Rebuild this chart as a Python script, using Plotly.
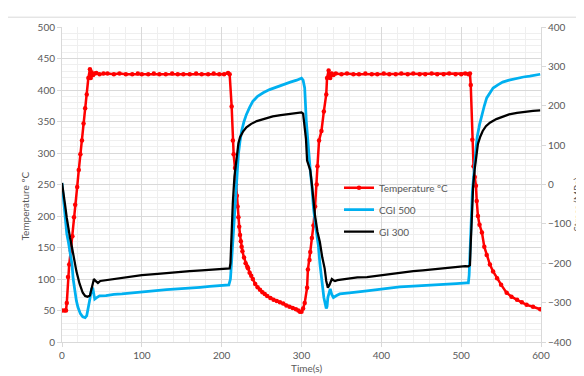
import plotly.graph_objects as go

# ---- Data ----
temp_time = [0, 3, 5, 6, 7.5, 9, 11, 13, 15, 16.5, 19, 21, 23, 25, 27, 29, 31, 33, 35, 36, 37, 39, 41, 43,
             47, 52, 57, 65, 72, 80, 88, 95, 100, 108, 115, 122, 130, 138, 145, 152, 160, 168, 175, 183,
             190, 197, 203, 208, 210,
             212.5, 214, 215, 216.7, 218, 219, 220, 221, 222, 223, 224, 225, 226, 228, 230, 232, 233, 235,
             237, 239, 242, 245, 248, 251, 254, 257, 261, 265, 269, 273, 277, 281, 285, 289, 293, 296, 298,
             300, 302, 304, 307, 308, 310, 311, 313, 315, 317, 319, 320, 322, 325, 328, 331, 332, 334, 336,
             338, 340, 343, 350, 357, 365, 372, 380, 388, 395, 403, 410, 418, 425, 433, 440, 448, 455, 463,
             470, 478, 485, 493, 500, 505, 509, 511,
             512, 514, 515.5, 517, 518.5, 519.5, 521, 523, 526, 529, 532, 536, 540, 545, 550, 557, 563, 570,
             576, 582, 590, 599]
temp_vals = [50, 50, 50, 62, 103, 123, 145, 168, 198, 218, 246, 273, 298, 320, 347, 371, 393, 419, 433, 419,
             428, 424, 426, 427,
             425, 426, 426, 425, 426, 425, 425, 426, 425, 425, 426, 425, 425, 426, 425, 425, 425, 426, 425,
             425, 426, 425, 425, 427, 425,
             374, 320, 298, 276, 250, 232, 215, 198, 183, 170, 160, 151, 144, 134, 125, 120, 117, 110,
             105, 100, 92, 87, 83, 79, 76, 73, 70, 67, 65, 63, 61, 58, 56, 54, 52, 50, 48,
             48, 53, 62, 86, 115, 130, 143, 165, 185, 215, 250, 279, 320, 335, 366, 393, 419, 431, 419,
             426, 424, 426, 425, 426, 425, 425, 426, 425, 425, 426, 425, 425, 426, 425, 426, 425, 425, 426,
             425, 425, 426, 425, 425, 426, 425, 426,
             408, 321, 279, 262, 248, 224, 200, 186, 174, 151, 138, 123, 112, 101, 91, 78, 72, 67,
             63, 59, 56, 52]

cgi_time = [0, 2, 4, 6, 8, 10, 12.5, 14, 16, 18, 20, 23, 26, 29, 31, 33, 35, 37, 38.5, 40, 41, 43, 47, 55,
            65, 75, 89, 100, 115, 131, 145, 160, 173, 185, 195, 206, 209, 211, 213, 215, 217, 219, 221, 223,
            225, 228, 231, 235, 239, 245, 252, 260, 269, 278, 286, 294, 300, 302, 304, 306, 309, 311, 313,
            315, 318, 321, 323, 325, 328, 331, 332, 333, 335, 336, 338, 340, 344, 348, 360, 370, 382, 400,
            411, 423, 440, 452, 470, 494, 507, 509, 510, 512, 514, 517, 520, 523, 526, 529, 532, 536, 540,
            546, 552, 560, 570, 578, 586, 593, 599]
cgi_vals = [4, -40, -96, -125, -146, -175, -203, -240, -270, -295, -312, -328, -336, -338, -333, -315, -290,
            -265, -262, -280, -291, -288, -283, -282, -279, -278, -275, -273, -270, -267, -265, -262, -261,
            -259, -257, -256, -255, -240, -180, -100, -46, 20, 78, 110, 136, 160, 178, 196, 211, 224, 233,
            241, 248, 255, 260, 265, 270, 265, 245, 161, 78, 35, -4, -60, -110, -153, -200, -237, -287,
            -315, -310, -287, -268, -265, -280, -287, -282, -278, -275, -272, -270, -266, -263, -260, -258,
            -257, -255, -252, -250, -250, -230, -120, -20, 53, 120, 152, 178, 200, 220, 234, 245, 253, 260,
            265, 270, 273, 275, 278, 280]

gi_time = [0, 2, 4, 6, 8, 10, 12, 15, 18, 22, 26, 29, 32, 35, 37, 39, 40, 42, 45, 48, 55, 65, 75, 85, 100,
           120, 140, 160, 175, 190, 205, 210, 211, 212, 214, 216, 219, 221, 223, 227, 231, 237, 244, 254,
           264, 274, 285, 295, 300, 302, 304, 305.6, 307, 309, 311, 313, 315, 317, 320, 323, 326, 329, 331,
           333, 335, 337, 338, 340, 342, 345, 355, 370, 382, 400, 423, 440, 452, 470, 485, 494, 505, 509,
           511, 512, 513, 515, 517, 519, 521, 524, 527, 531, 536, 544, 552, 560, 570, 580, 590, 599]
gi_vals = [4, -20, -54, -85, -113, -135, -154, -190, -220, -252, -275, -283, -285, -282, -265, -242, -240,
           -245, -250, -245, -243, -240, -236, -235, -230, -227, -223, -220, -218, -216, -213, -213, -200,
           -140, -46, 20, 78, 105, 120, 135, 145, 154, 161, 168, 173, 176, 179, 181, 183, 180, 150, 116, 61,
           45, 36, 0, -46, -80, -120, -146, -185, -213, -245, -262, -255, -243, -240, -243, -245, -243,
           -240, -236, -235, -230, -225, -220, -218, -214, -212, -210, -207, -208, -205, -150, -80, -4, 40,
           70, 103, 122, 136, 148, 157, 166, 173, 178, 182, 185, 187, 188]

x_ticks = [0, 100, 200, 300, 400, 500, 600]
temp_ticks = [0, 50, 100, 150, 200, 250, 300, 350, 400, 450, 500]
stress_ticks = [-400, -300, -200, -100, 0, 100, 200, 300, 400]

# ---- Figure ----
# The page body has an 8px margin, so figure coordinates = screen px - 8.
OFF = 8
W, H = 584, 376
PL, PR, PT, PB = 62, 541, 21, 342          # plot area in screen pixels
L, T = PL - OFF, PT - OFF
pw, ph = PR - PL, PB - PT
R, B = W - L - pw, H - T - ph

def px_x(px):
    return (px - PL) / pw

def px_y(py):
    return (PB - py) / ph

grey = "#595959"
font = "Lato"

fig = go.Figure()
fig.add_trace(go.Scatter(x=temp_time, y=temp_vals, name="Temperature ºC", mode="lines+markers",
                         legendgroup="a",
                         line=dict(color="#FF0000", width=2.5), marker=dict(size=4.5, color="#FF0000")))
fig.add_trace(go.Scatter(x=cgi_time, y=cgi_vals, name="CGI 500", mode="lines", yaxis="y2",
                         legendgroup="b",
                         line=dict(color="#00B0F0", width=2.75)))
fig.add_trace(go.Scatter(x=gi_time, y=gi_vals, name="GI 300", mode="lines", yaxis="y2",
                         legendgroup="c",
                         line=dict(color="#000000", width=2.25)))

fig.update_layout(
    width=W, height=H,
    margin=dict(l=L, r=R, t=T, b=B, pad=0),
    paper_bgcolor="white", plot_bgcolor="white",
    font=dict(family=font, size=10, color=grey),
    showlegend=True,
    legend=dict(x=px_x(339), y=px_y(170), xanchor="left", yanchor="top",
                bgcolor="rgba(0,0,0,0)", font=dict(size=10, color=grey),
                itemwidth=30, tracegroupgap=3),
    xaxis=dict(range=[0, 600], tickvals=x_ticks, ticks="outside", ticklen=4, tickcolor="#d9d9d9",
               showline=True, linecolor="#d9d9d9", linewidth=1,
               showgrid=True, gridcolor="#d9d9d9", gridwidth=1, zeroline=False,
               minor=dict(dtick=20, showgrid=True, gridcolor="#efefef", gridwidth=1)),
    yaxis=dict(range=[0, 500], tickvals=temp_ticks, ticks="outside", ticklen=4, tickcolor="#d9d9d9",
               showline=True, linecolor="#d9d9d9", linewidth=1,
               showgrid=True, gridcolor="#d9d9d9", gridwidth=1, zeroline=False,
               minor=dict(dtick=10, showgrid=True, gridcolor="#efefef", gridwidth=1)),
    yaxis2=dict(range=[-400, 400], tickvals=stress_ticks, overlaying="y", side="right",
                ticks="outside", ticklen=4, tickcolor="#d9d9d9",
                showline=True, linecolor="#d9d9d9", linewidth=1,
                showgrid=False, zeroline=False),
    shapes=[dict(type="rect", xref="paper", yref="paper", layer="below",
                 x0=px_x(6), x1=px_x(610), y0=px_y(400), y1=px_y(11),
                 line=dict(color="#d9d9d9", width=1), fillcolor="rgba(0,0,0,0)")],
    annotations=[
        dict(text="Temperature ºC", xref="paper", yref="paper", x=px_x(25), y=px_y(204),
             textangle=-90, showarrow=False, xanchor="center", yanchor="middle",
             font=dict(size=10, color=grey)),
        dict(text="Stress (MPa)", xref="paper", yref="paper", x=px_x(577), y=px_y(202),
             textangle=-90, showarrow=False, xanchor="center", yanchor="middle",
             font=dict(size=10, color=grey)),
        dict(text="Time(s)", xref="paper", yref="paper", x=px_x(306), y=px_y(368),
             showarrow=False, xanchor="center", yanchor="middle",
             font=dict(size=10, color=grey)),
    ],
)

fig.write_html("out.html")
